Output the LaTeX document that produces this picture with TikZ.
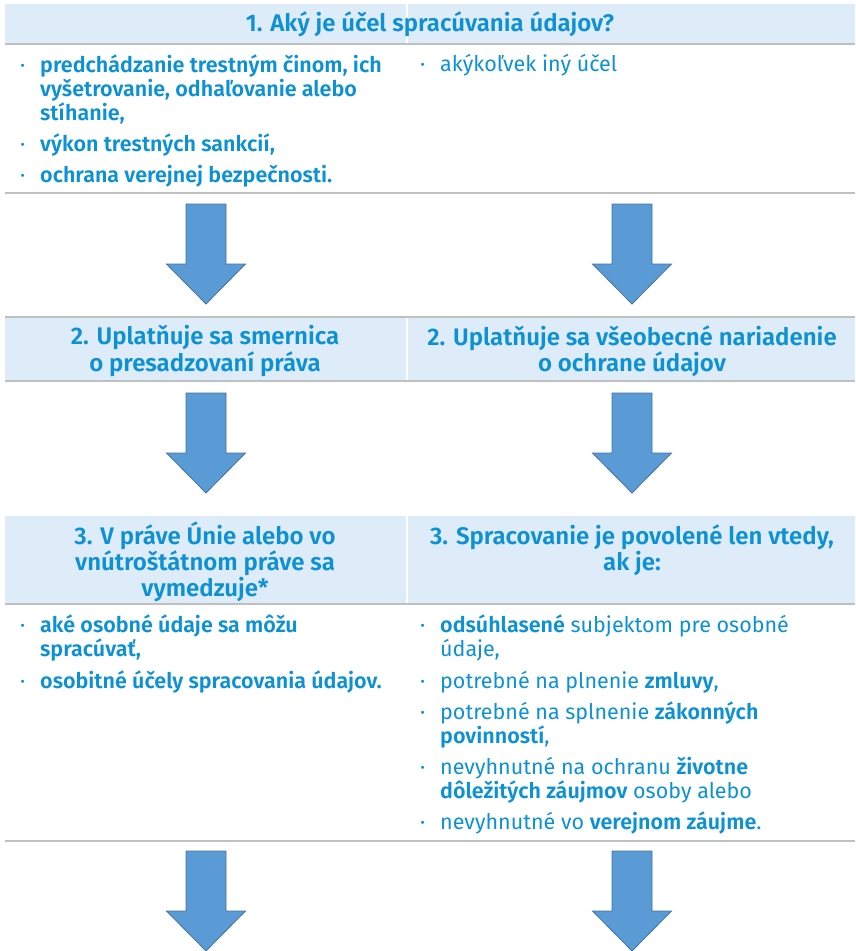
\documentclass[tikz,border=0pt]{standalone}
\usepackage{fontspec}
\setmainfont{Fira Sans}[BoldFont={Fira Sans SemiBold}]

\definecolor{txtblue}{RGB}{12,145,212}
\definecolor{bandblue}{RGB}{222,235,248}
\definecolor{rulegray}{RGB}{192,192,192}
\definecolor{arrfill}{RGB}{91,155,213}
\definecolor{arrline}{RGB}{70,115,160}

% bullet with hanging indent
\newcommand{\itm}{\makebox[20pt][l]{\textmd{·}}}
\newcommand{\ind}{\hspace*{20pt}}

\tikzset{
  headtxt/.style={font=\bfseries\fontsize{24}{24.5}\selectfont, text=txtblue, align=center, inner sep=0pt},
  lst/.style={font=\fontsize{21.5}{24}\selectfont, text=txtblue, align=left, inner sep=0pt, anchor=north west},
  lstb/.style={lst, font=\bfseries\fontsize{21.5}{24}\selectfont},
  band/.style={fill=bandblue, draw=none},
  rowline/.style={draw=rulegray, line width=1.2pt},
  colsep/.style={draw=white, line width=1.2pt},
  downarr/.pic={\draw[fill=arrfill, draw=arrline, line width=0.8pt]
    (-20,0) -- (20,0) -- (20,60) -- (39.5,60) -- (0,100) -- (-39.5,60) -- (-20,60) -- cycle;}
}

\begin{document}
\begin{tikzpicture}[x=1pt, y=-1pt]
	\useasboundingbox (0,0) rectangle (855,951);

	% Riadok 1
	\fill[band] (5,4) rectangle (855,44);
	\draw[colsep] (407,4) -- (407,44);
	\draw[rowline] (5,44) -- (855,44);
	\node[headtxt] (q1) at (430,24) {1. Aký je účel spracúvania údajov?};

	\node[lstb] (l1) at (20,54.5) {%
		\itm predchádzanie trestným činom, ich\\
		\ind vyšetrovanie, odhaľovanie alebo\\
		\ind stíhanie,\\[7pt]
		\itm výkon trestných sankcií,\\[7pt]
		\itm ochrana verejnej bezpečnosti.};
	\node[lst] (r1) at (420,54.5) {\itm akýkoľvek iný účel};
	\draw[rowline] (5,193) -- (855,193);

	% Sipky 1
	\pic at (206,204) {downarr};
	\pic at (632,204) {downarr};

	% Riadok 2
	\fill[band] (5,317) rectangle (855,381);
	\draw[colsep] (407,317) -- (407,381);
	\draw[rowline] (5,317) -- (855,317);
	\draw[rowline] (5,381) -- (855,381);
	\node[headtxt] (l2) at (205,351) {2. Uplatňuje sa smernica\\o presadzovaní práva};
	\node[headtxt] (r2) at (632,351) {2. Uplatňuje sa všeobecné nariadenie\\o ochrane údajov};

	% Sipky 2
	\pic at (206,393) {downarr};
	\pic at (632,393) {downarr};

	% Riadok 3
	\fill[band] (5,516) rectangle (855,604);
	\draw[colsep] (407,516) -- (407,604);
	\draw[rowline] (5,604) -- (855,604);
	\node[headtxt] (l3) at (205,562) {3. V práve Únie alebo vo\\vnútroštátnom práve sa\\vymedzuje*};
	\node[headtxt] (r3) at (632,550) {3. Spracovanie je povolené len vtedy,\\ak je:};

	\node[lstb] (l4) at (20,614.5) {%
		\itm aké osobné údaje sa môžu\\
		\ind spracúvať,\\[8pt]
		\itm osobitné účely spracovania údajov.};
	\node[lst] (r4) at (420,614.5) {%
		\itm\textbf{odsúhlasené} subjektom pre osobné\\
		\ind údaje,\\[8pt]
		\itm potrebné na plnenie \textbf{zmluvy},\\[7pt]
		\itm potrebné na splnenie \textbf{zákonných}\\
		\ind\textbf{povinností},\\[7pt]
		\itm nevyhnutné na ochranu \textbf{životne}\\
		\ind\textbf{dôležitých záujmov} osoby alebo\\[7pt]
		\itm nevyhnutné vo \textbf{verejnom záujme}.};
	\draw[rowline] (5,841) -- (855,841);

	% Sipky 3
	\pic at (206,851) {downarr};
	\pic at (632,851) {downarr};
\end{tikzpicture}
\end{document}
